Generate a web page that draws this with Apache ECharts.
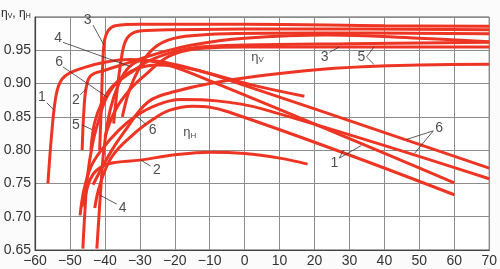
<!DOCTYPE html>
<html>
<head>
<meta charset="utf-8">
<script src="https://cdn.jsdelivr.net/npm/echarts@6/dist/echarts.min.js"></script>
<style>
    html, body { margin: 0; padding: 0; background: #fbfbfb; }
    #chart { width: 500px; height: 269px; }
</style>
</head>
<body>
<div id="chart"></div>
<script>
// axis ranges
var xMin = -60, xMax = 70, xStep = 10;
var yMin = 0.65, yMax = 1.0, yStep = 0.05;

// eta_v curves (flat, high)
var etaV_a = [[-41.5, 0.80], [-41, 0.87], [-40.6, 0.93], [-40.1, 0.965], [-39, 0.98], [-37, 0.987], [-30, 0.989], [0, 0.989], [40, 0.987], [70, 0.986]];
var etaV_b = [[-37.5, 0.84], [-36.5, 0.89], [-35.5, 0.93], [-34.5, 0.958], [-33, 0.972], [-30, 0.979], [-20, 0.981], [20, 0.982], [70, 0.981]];
var etaV_c = [[-35, 0.85], [-33, 0.89], [-30, 0.925], [-27, 0.948], [-23, 0.963], [-17, 0.971], [-5, 0.975], [20, 0.976], [70, 0.975]];
var etaV_d = [[-46.5, 0.80], [-46, 0.86], [-45.3, 0.895], [-44, 0.912], [-40, 0.92], [-34, 0.93], [-25, 0.945], [-15, 0.958], [0, 0.968], [24, 0.973], [50, 0.968], [70, 0.963]];
var etaV_e = [[-44, 0.80], [-43, 0.84], [-41, 0.87], [-38, 0.895], [-33, 0.915], [-27, 0.935], [-20, 0.948], [-13, 0.955], [0, 0.958], [30, 0.96], [70, 0.962]];
var etaV_f = [[-40, 0.82], [-37, 0.86], [-33, 0.89], [-28, 0.915], [-23, 0.937], [-18, 0.948], [-12, 0.953], [0, 0.955], [30, 0.955], [70, 0.955]];
var etaV_g = [[-43.4, 0.748], [-38, 0.80], [-33.7, 0.833], [-30, 0.86], [-26.3, 0.877], [-20, 0.888], [-10, 0.9], [5, 0.912], [25.7, 0.923], [50, 0.928], [70, 0.929]];

// eta_h curves (peak, then falling)
var etaH_1 = [[-56.3, 0.75], [-55.3, 0.82], [-54.2, 0.875], [-53, 0.9], [-51, 0.913], [-46, 0.924], [-40, 0.932], [-33, 0.936], [-25, 0.932], [-15, 0.915], [60, 0.751]];
var etaH_2 = [[-46.6, 0.715], [-45.7, 0.73], [-44.3, 0.755], [-42.3, 0.77], [-38.6, 0.78], [-30, 0.785], [-20, 0.793], [-10, 0.797], [0, 0.795], [10, 0.788], [18, 0.779]];
var etaH_3 = [[-42.9, 0.713], [-41.4, 0.748], [-38, 0.79], [-32, 0.823], [-26, 0.847], [-21.4, 0.86], [-15, 0.866], [-5, 0.858], [60, 0.733]];
var etaH_4 = [[-42.3, 0.652], [-41.7, 0.70], [-41.2, 0.74], [-40.3, 0.80], [-38.5, 0.86], [-36, 0.90], [-33, 0.925], [-29, 0.935], [-22.9, 0.932], [-10.6, 0.916], [2, 0.898], [17.1, 0.881]];
var etaH_5 = [[-47.1, 0.702], [-46, 0.74], [-44, 0.775], [-41, 0.80], [-36, 0.83], [-30.9, 0.852], [-25, 0.868], [-18, 0.876], [-8, 0.874], [5, 0.862], [70, 0.757]];
var etaH_6 = [[-46.3, 0.652], [-45.8, 0.70], [-45, 0.76], [-43.5, 0.81], [-41.5, 0.85], [-39.4, 0.88], [-36, 0.905], [-31, 0.922], [-25, 0.928], [-15, 0.922], [-5, 0.906], [70, 0.773]];

// number labels on the plot: [x, y, text]
var labelPoints = [
    [-58, 0.88, '1'], [-48.3, 0.875, '2'], [-48.3, 0.838, '5'], [-53.1, 0.932, '6'],
    [-53.4, 0.968, '4'], [-44.9, 0.995, '3'], [-26.3, 0.83, '6'], [-25.1, 0.77, '2'],
    [-34.9, 0.713, '4'], [22.9, 0.94, '3'], [33.4, 0.94, '5'], [25.7, 0.78, '1'],
    [55.7, 0.833, '6']
];
// eta labels: [x, y, subscript]
var etaLabels = [[3.7, 0.94, 'V'], [-15.7, 0.826, 'H']];

// leader lines from labels to curves
var leaderLines = [
    [[-56.6, 0.871], [-54.5, 0.86]],
    [[-47.1, 0.883], [-45.4, 0.892]],
    [[-46.6, 0.838], [-43.7, 0.831]],
    [[-52, 0.925], [-39.4, 0.88]],
    [[-52, 0.962], [-32.9, 0.926]],
    [[-43.4, 0.988], [-40.3, 0.958]],
    [[-28.3, 0.839], [-30.9, 0.851]],
    [[-26.9, 0.776], [-29.7, 0.785]],
    [[-36.6, 0.719], [-41.3, 0.732]],
    [[24.3, 0.947], [27.1, 0.955]],
    [[34.9, 0.94], [37, 0.955]],
    [[34.9, 0.94], [37, 0.929]],
    [[27.1, 0.788], [28.3, 0.80]],
    [[27.1, 0.788], [33.4, 0.807]],
    [[54, 0.829], [46.3, 0.816]],
    [[54, 0.829], [48.6, 0.795]]
];

var curves = [etaV_a, etaV_b, etaV_c, etaV_d, etaV_e, etaV_f, etaV_g,
              etaH_1, etaH_2, etaH_3, etaH_4, etaH_5, etaH_6];

var textFont = '"Liberation Sans Narrow", "Liberation Sans", Arial, sans-serif';

function initChart() {
    var chart = echarts.init(document.getElementById('chart'), null, { renderer: 'canvas' });

    var series = curves.map(function (pts) {
        return {
            type: 'line',
            data: pts,
            smooth: 0.4,
            showSymbol: false,
            silent: true,
            lineStyle: { color: '#ee3524', width: 3 },
            z: 3
        };
    });

    series.push({
        type: 'lines',
        coordinateSystem: 'cartesian2d',
        silent: true,
        data: leaderLines.map(function (l) { return { coords: l }; }),
        lineStyle: { color: '#333', width: 0.8, opacity: 1 },
        z: 4
    });

    series.push({
        type: 'scatter',
        symbolSize: 0,
        silent: true,
        data: labelPoints,
        label: {
            show: true,
            position: 'inside',
            formatter: function (p) { return p.data[2]; },
            color: '#222',
            fontSize: 14,
            fontFamily: textFont
        },
        z: 5
    });

    series.push({
        type: 'scatter',
        symbolSize: 0,
        silent: true,
        data: etaLabels,
        label: {
            show: true,
            position: 'inside',
            formatter: function (p) { return '{e|η}{s|' + p.data[2] + '}'; },
            rich: {
                e: { fontSize: 13, color: '#222', fontFamily: textFont },
                s: { fontSize: 8, color: '#222', fontFamily: textFont, verticalAlign: 'bottom', padding: [5, 0, 0, 0] }
            }
        },
        z: 5
    });

    var option = {
        backgroundColor: '#fbfbfb',
        animation: false,
        graphic: [{
            type: 'text',
            left: 1,
            top: 8,
            style: {
                text: '{e|η}{s|V}{e|, η}{s|H}',
                rich: {
                    e: { fontSize: 12, fill: '#222', fontFamily: textFont },
                    s: { fontSize: 7, fill: '#222', fontFamily: textFont, verticalAlign: 'bottom', padding: [4, 0, 0, 0] }
                }
            }
        }],
        grid: {
            left: 35, right: 10, top: 17, bottom: 19,
            show: true,
            backgroundColor: '#ffffff',
            borderColor: '#555',
            borderWidth: 1
        },
        xAxis: {
            type: 'value',
            min: xMin, max: xMax, interval: xStep,
            axisLine: { onZero: false, lineStyle: { color: '#444', width: 1.2 } },
            axisTick: { show: false },
            splitLine: { lineStyle: { color: '#8c8c8c', width: 1 } },
            axisLabel: {
                color: '#333', fontSize: 14, fontFamily: textFont, margin: 4,
                formatter: function (v) { return String(v).replace('-', '\u2212'); }
            }
        },
        yAxis: {
            type: 'value',
            min: yMin, max: yMax, interval: yStep,
            axisLine: { show: true, onZero: false, lineStyle: { color: '#444', width: 1.2 } },
            axisTick: { show: false },
            splitLine: { lineStyle: { color: '#8c8c8c', width: 1 } },
            axisLabel: {
                color: '#333', fontSize: 14, fontFamily: textFont, margin: 4,
                formatter: function (v) { return v > 0.99 ? '' : v.toFixed(2); }
            }
        },
        series: series
    };

    chart.setOption(option);
}

initChart();
</script>
</body>
</html>
